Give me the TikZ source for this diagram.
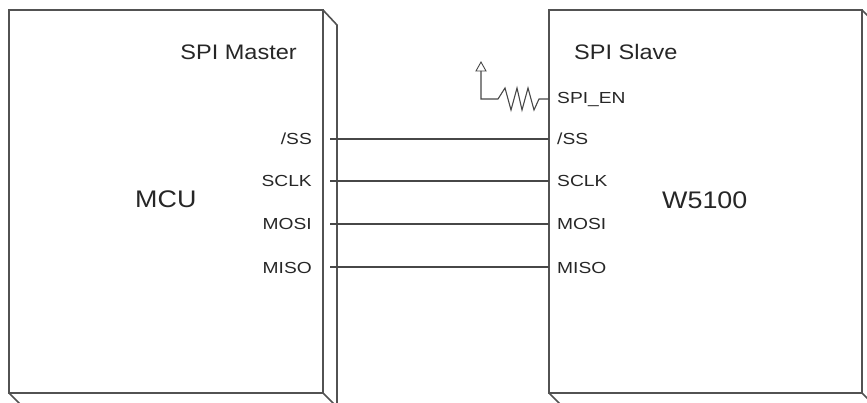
\documentclass[tikz,border=0pt]{standalone}
\usepackage{fontspec}
\setmainfont{Liberation Sans}
\newcommand{\hs}[2][1.12]{\scalebox{#1}[1]{#2}}
\begin{document}
\begin{tikzpicture}[x=1pt,y=-1pt,
  edge/.style={draw=black!68, line width=1.6pt, line join=miter},
  wire/.style={draw=black!72, line width=1.3pt},
  small/.style={font=\fontsize{16}{18}\selectfont, text=black!85, inner sep=0pt},
  mid/.style={font=\fontsize{21}{24}\selectfont, text=black!85, inner sep=0pt},
  big/.style={font=\fontsize{24}{28}\selectfont, text=black!85, inner sep=0pt}]
\useasboundingbox (0,0) rectangle (867,403);
\clip (0,0) rectangle (867,403);
% left box (MCU)
\draw[edge] (9,10) rectangle (323,393);
\draw[edge] (323,10) -- (337,25) -- (337,410);
\draw[edge] (323,393) -- (340,410);
\draw[edge] (9,393) -- (26,410);
% right box (W5100)
\draw[edge] (549,10) rectangle (862,393);
\draw[edge] (862,10) -- (877,25) -- (877,410);
\draw[edge] (862,393) -- (879,410);
\draw[edge] (549,393) -- (566,410);
% titles
\node[mid, anchor=base east] (master) at (297,60) {\hs{SPI Master}};
\node[mid, anchor=base west] (slave) at (574,60) {\hs{SPI Slave}};
\node[big, anchor=base west] (mcu) at (135,208) {\hs{MCU}};
\node[big, anchor=base west] (w5100) at (662,209) {\hs{W5100}};
% pins
\foreach \nm/\txt/\y in {ss/{/SS}/139, sclk/SCLK/181, mosi/MOSI/224, miso/MISO/267}{
  \node[small, anchor=base east] (l\nm) at (312,\y+6) {\hs[1.2]{\txt}};
  \node[small, anchor=base west] (r\nm) at (557,\y+6) {\hs[1.2]{\txt}};
  \coordinate (a\nm) at (330,\y);
  \coordinate (b\nm) at (549,\y);
  \draw[wire] (a\nm) -- (b\nm);
}
\node[small, anchor=base west] (spien) at (557,104) {\hs[1.2]{SPI\_EN}};
% pull-up resistor
\coordinate (en) at (549,99);
\coordinate (vcc) at (481,71);
\draw[wire, line width=1.1pt, line join=miter] (en) -- (539,99) -- (534,110) -- (528,88) -- (522,110) -- (517,88) -- (511,110) -- (505,88) -- (498,99) -- (481,99) -- (vcc);
\draw[wire, line width=0.9pt] (476,71) -- (481,62) -- (486,71) -- cycle;
\end{tikzpicture}
\end{document}
